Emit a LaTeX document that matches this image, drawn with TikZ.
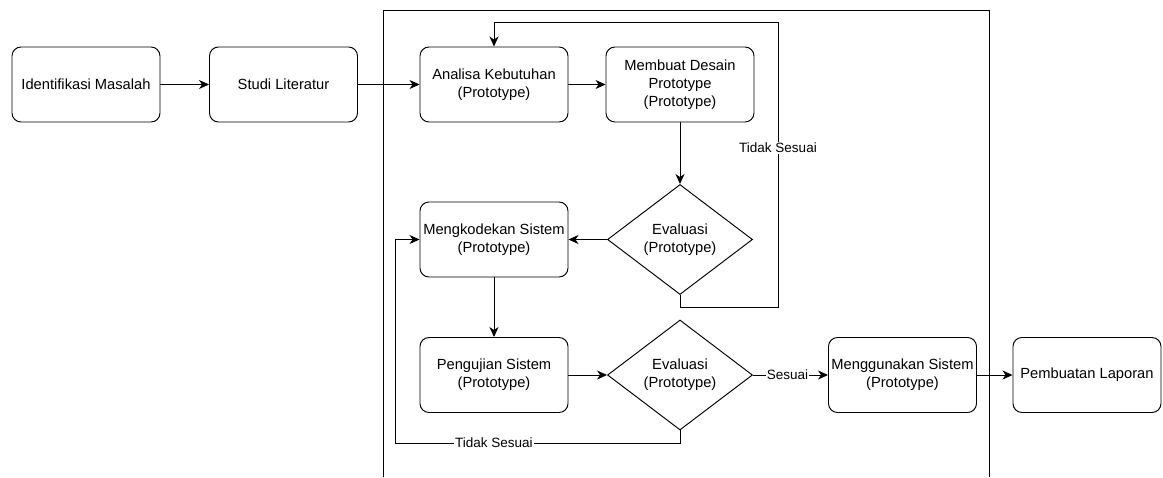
\documentclass[tikz,border=0pt]{standalone}
\usepackage{fontspec}
\setmainfont{Liberation Sans}
\usetikzlibrary{shapes.geometric,arrows.meta}

\tikzset{
  stepbox/.style={draw, line width=0.95pt, rounded corners=9pt, minimum width=148pt,
    minimum height=75pt, inner sep=0pt, align=center,
    font=\fontsize{14.7}{17.7}\selectfont},
  decide/.style={draw, line width=0.95pt, diamond, aspect=1.3, minimum width=145pt,
    minimum height=110pt, inner sep=0pt, align=center,
    font=\fontsize{14.7}{17.7}\selectfont},
  flow/.style={line width=0.95pt, -{Stealth[length=10pt,width=9pt,inset=3pt]}},
  plain/.style={line width=0.95pt},
  lbl/.style={fill=white, inner sep=1pt, font=\fontsize{13.5}{15}\selectfont}
}

\begin{document}
\begin{tikzpicture}[x=1pt,y=-1pt]
\useasboundingbox (0,0) rectangle (1163,477);

% enclosing frame of the prototyping phase (open at the bottom edge)
\draw[plain] (383,477) -- (383,10) -- (989,10) -- (989,477);

% process steps
\node[stepbox] (idm) at (86,84.5) {Identifikasi Masalah};
\node[stepbox] (lit) at (283.5,84.5) {Studi Literatur};
\node[stepbox] (ana) at (494,84.5) {Analisa Kebutuhan\\(Prototype)};
\node[stepbox] (des) at (680,84.5) {Membuat Desain\\Prototype\\(Prototype)};
\node[decide] (ev1) at (680,239.5) {Evaluasi\\(Prototype)};
\node[stepbox] (kod) at (494,239.5) {Mengkodekan Sistem\\(Prototype)};
\node[stepbox] (uji) at (494,375) {Pengujian Sistem\\(Prototype)};
\node[decide] (ev2) at (680,375) {Evaluasi\\(Prototype)};
\node[stepbox] (use) at (902.5,375) {Menggunakan Sistem\\(Prototype)};
\node[stepbox] (lap) at (1087,375) {Pembuatan Laporan};

% bends of the feedback loops
\coordinate (fbR) at (778,307);
\coordinate (fbT) at (778,22);
\coordinate (fbB) at (395,443);

% main flow
\draw[flow] (idm) -- (lit);
\draw[flow] (lit) -- (ana);
\draw[flow] (ana) -- (des);
\draw[flow] (des) -- (ev1);
\draw[flow] (ev1) -- (kod);
\draw[flow] (kod) -- (uji);
\draw[flow] (uji) -- (ev2);
\draw[flow] (ev2) -- node[lbl, pos=0.46] {Sesuai} (use);
\draw[flow] (use) -- (lap);

% design evaluation fails: back to requirements analysis
\draw[flow] (ev1.south) |- (fbR) -- node[lbl, pos=0.558] {Tidak Sesuai} (fbT) -| (ana.north);

% test evaluation fails: back to coding
\draw[flow] (ev2.south) -- (ev2.south |- fbB) -- node[lbl, pos=0.653] {Tidak Sesuai} (fbB) |- (kod.west);
\end{tikzpicture}
\end{document}
